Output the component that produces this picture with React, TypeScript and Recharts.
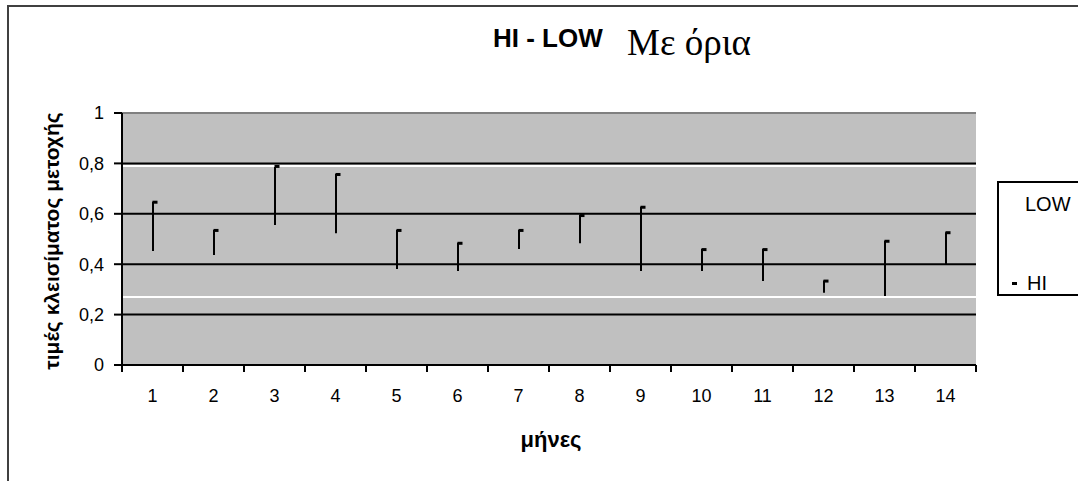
import { ComposedChart, Bar, Line, XAxis, YAxis, ReferenceLine, CartesianGrid } from "recharts";

const months = [1, 2, 3, 4, 5, 6, 7, 8, 9, 10, 11, 12, 13, 14];
const hiValues = [0.648, 0.536, 0.79, 0.758, 0.536, 0.485, 0.536, 0.595, 0.628, 0.46, 0.46, 0.335, 0.493, 0.527];
const lowValues = [0.452, 0.437, 0.556, 0.523, 0.381, 0.373, 0.46, 0.483, 0.373, 0.373, 0.333, 0.287, 0.27, 0.397];
const limits = [0.79, 0.27];
const yTicks = [0, 0.2, 0.4, 0.6, 0.8, 1];
const gridValues = [0.2, 0.4, 0.6, 0.8];

const data = months.map((m, i) => ({ month: m, hi: hiValues[i], low: lowValues[i], range: [lowValues[i], hiValues[i]] }));

const sans = '"Liberation Sans", Arial, sans-serif';

function HiMark(props: any) {
  const { cx, cy } = props;
  if (cx == null || cy == null) return null;
  return <rect x={cx} y={cy - 1} width={5} height={3} fill="#000" />;
}

// month labels sit in the middle of each band, tick marks on the band edges
function MonthTick(props: any) {
  const { x, y, payload, index, visibleTicksCount, width } = props;
  const half = payload.offset || width / visibleTicksCount / 2;
  const left = x - half;
  const right = x + half;
  return (
    <g>
      <line x1={left} x2={left} y1={y} y2={y + 7} stroke="#000" strokeWidth={2} />
      {index === visibleTicksCount - 1 && <line x1={right} x2={right} y1={y} y2={y + 7} stroke="#000" strokeWidth={2} />}
      <text x={x} y={y + 37} textAnchor="middle" fontSize={18} fontFamily={sans} fill="#000">
        {payload.value}
      </text>
    </g>
  );
}

export default function App() {
  return (
    <div style={{ position: "fixed", left: 0, top: 0, width: 1078, height: 481, background: "#fff", overflow: "hidden", fontFamily: sans }}>
      <div style={{ position: "absolute", left: 7, top: 5, width: 1200, height: 600, borderLeft: "2px solid #404040", borderTop: "2px solid #404040" }} />

      <div style={{ position: "absolute", left: 493, top: 25, fontSize: 26, lineHeight: 1, fontWeight: "bold", color: "#000", whiteSpace: "nowrap" }}>HI - LOW</div>
      <div style={{ position: "absolute", left: 627, top: 24, fontSize: 37, lineHeight: 1, fontFamily: '"Liberation Serif", "Times New Roman", serif', color: "#000", whiteSpace: "nowrap" }}>Με όρια</div>

      <div style={{ position: "absolute", left: 51, top: 241, width: 0, height: 0 }}>
        <div style={{ position: "absolute", left: 0, top: 0, transform: "translate(-50%, -50%) rotate(-90deg)", fontSize: 21, fontWeight: "bold", whiteSpace: "nowrap", lineHeight: 1 }}>
          τιμές κλεισίματος μετοχής
        </div>
      </div>

      <div style={{ position: "absolute", left: 551, top: 429, width: 0 }}>
        <div style={{ position: "absolute", left: 0, top: 0, transform: "translateX(-50%)", fontSize: 22, fontWeight: "bold", whiteSpace: "nowrap", lineHeight: 1 }}>μήνες</div>
      </div>

      <ComposedChart
        width={1078}
        height={481}
        data={data}
        margin={{ top: 113, right: 102, bottom: 76, left: 62 }}
        style={{ position: "absolute", left: 0, top: 0 }}
      >
        <CartesianGrid horizontal={false} vertical={false} fill="#c0c0c0" fillOpacity={1} />
        {gridValues.map((v) => (
          <ReferenceLine key={v} y={v} stroke="#000" strokeWidth={2} />
        ))}
        <ReferenceLine y={1} stroke="#808080" strokeWidth={2} />
        {limits.map((v) => (
          <ReferenceLine key={"l" + v} y={v} stroke="#ffffff" strokeWidth={2} />
        ))}
        <Bar dataKey="range" barSize={2} fill="#000" isAnimationActive={false} />
        <Line dataKey="hi" stroke="none" dot={<HiMark />} activeDot={false} isAnimationActive={false} />
        <XAxis
          dataKey="month"
          height={40}
          interval={0}
          tickSize={0}
          tickMargin={0}
          tickLine={false}
          axisLine={{ stroke: "#000", strokeWidth: 2 }}
          tick={<MonthTick />}
        />
        <YAxis
          domain={[0, 1]}
          ticks={yTicks}
          width={60}
          interval={0}
          tickSize={8}
          tickMargin={10}
          tickFormatter={(v) => String(v).replace(".", ",")}
          axisLine={{ stroke: "#000", strokeWidth: 2 }}
          tickLine={{ stroke: "#000", strokeWidth: 2 }}
          tick={{ fill: "#000", fontSize: 18, fontFamily: sans }}
        />
        <YAxis
          yAxisId="r"
          orientation="right"
          domain={[0, 1]}
          width={0}
          tick={false}
          tickLine={false}
          axisLine={{ stroke: "#808080", strokeWidth: 2 }}
        />
      </ComposedChart>

      <div style={{ position: "absolute", left: 997, top: 181, width: 120, height: 111, border: "2px solid #000", background: "#fff" }}>
        <div style={{ position: "absolute", left: 26, top: 11, fontSize: 20, lineHeight: 1 }}>LOW</div>
        <div style={{ position: "absolute", left: 13, top: 99, width: 5, height: 3, background: "#000" }} />
        <div style={{ position: "absolute", left: 28, top: 90, fontSize: 20, lineHeight: 1 }}>HI</div>
      </div>
    </div>
  );
}
